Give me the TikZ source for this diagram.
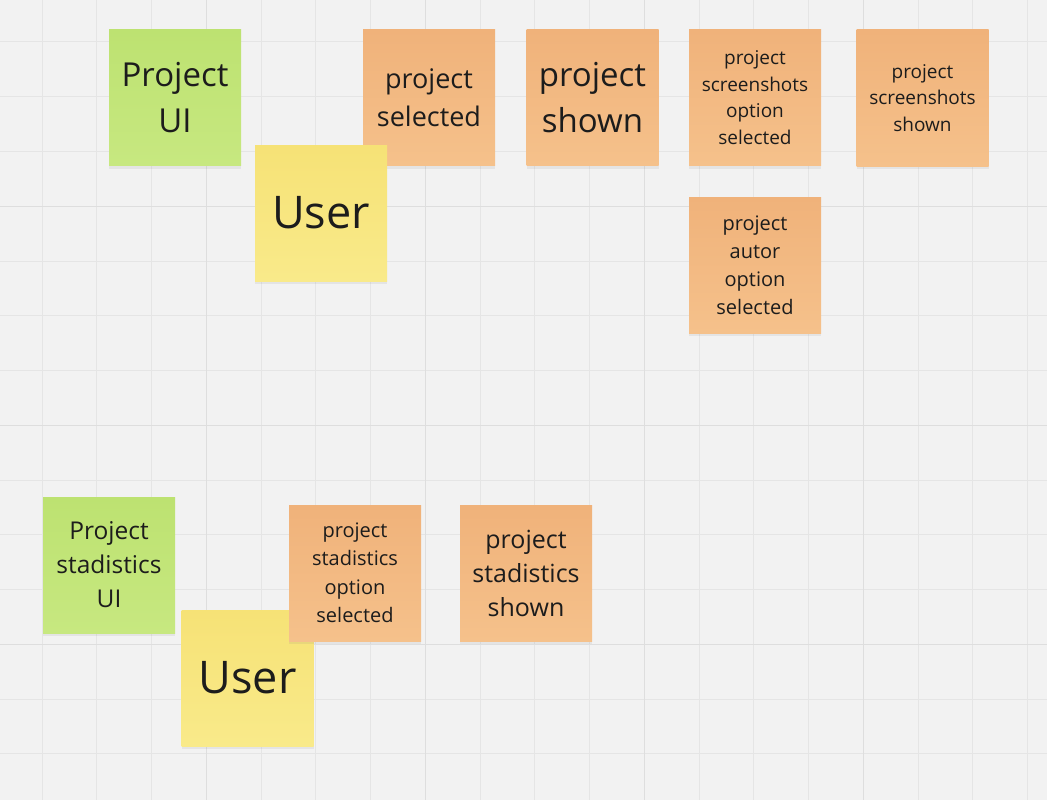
\documentclass[tikz,border=0pt]{standalone}
\usepackage{fontspec}
\setmainfont{Open Sans}
\usetikzlibrary{shadows}
\definecolor{board}{RGB}{242,242,242}
\definecolor{gridline}{RGB}{229,229,229}
\definecolor{gridmajor}{RGB}{222,222,222}
\definecolor{greentop}{RGB}{189,226,113}
\definecolor{greenbot}{RGB}{199,232,128}
\definecolor{yellowtop}{RGB}{246,226,118}
\definecolor{yellowbot}{RGB}{249,234,138}
\definecolor{orangetop}{RGB}{240,178,122}
\definecolor{orangebot}{RGB}{245,193,139}
\definecolor{ink}{RGB}{28,28,28}
\tikzset{
  sticky/.style={minimum width=132pt, minimum height=136pt, inner sep=0pt,
    align=center, text=ink, text width=126pt,
    drop shadow={opacity=0.12, shadow xshift=0pt, shadow yshift=-3pt}},
  uinote/.style={sticky, top color=greentop, bottom color=greenbot},
  usernote/.style={sticky, top color=yellowtop, bottom color=yellowbot},
  eventnote/.style={sticky, top color=orangetop, bottom color=orangebot},
}

\begin{document}
\begin{tikzpicture}[x=1pt,y=-1pt]
    \useasboundingbox[fill=board] (0,0) rectangle (1047,800);
    \foreach \i in {0,...,18} {
      \draw[gridline,line width=1pt] ({42+54.75*\i},0) -- ({42+54.75*\i},800);
    }
    \foreach \j in {0,...,13} {
      \draw[gridline,line width=1pt] (0,{42+54.75*\j}) -- (1047,{42+54.75*\j});
    }
    \foreach \i in {3,7,11,15} {
      \draw[gridmajor,line width=1.2pt] ({42+54.75*\i},0) -- ({42+54.75*\i},800);
    }
    \foreach \j in {3,7,11} {
      \draw[gridmajor,line width=1.2pt] (0,{42+54.75*\j}) -- (1047,{42+54.75*\j});
    }

    % top flow
    \node[uinote, font=\fontsize{33}{46}\selectfont] (projui) at (175,97.5) {Project\\UI};
    \node[eventnote, font=\fontsize{27}{38}\selectfont] (projsel) at (429,97.5) {project\\selected};
    \node[usernote, font=\fontsize{45}{54}\selectfont] (usera) at (321,213) {User};
    \node[eventnote, font=\fontsize{33}{46}\selectfont] (projshown) at (592.5,97.5) {project\\shown};
    \node[eventnote, font=\fontsize{19}{26.5}\selectfont] (shotsel) at (755,97.5) {project\\screenshots\\option\\selected};
    \node[eventnote, font=\fontsize{19}{26.5}\selectfont] (shotshown) at (922.5,98) {project\\screenshots\\shown};
    \node[eventnote, font=\fontsize{20}{28}\selectfont] (autorsel) at (755,265) {project\\autor\\option\\selected};

    % bottom flow
    \node[uinote, font=\fontsize{24.5}{34}\selectfont] (statui) at (109,565) {Project\\stadistics\\UI};
    \node[usernote, font=\fontsize{45}{54}\selectfont] (userb) at (247.5,678) {User};
    \node[eventnote, font=\fontsize{20}{28.5}\selectfont] (statsel) at (355,573) {project\\stadistics\\option\\selected};
    \node[eventnote, font=\fontsize{25}{34}\selectfont] (statshown) at (526,573) {project\\stadistics\\shown};
\end{tikzpicture}
\end{document}
